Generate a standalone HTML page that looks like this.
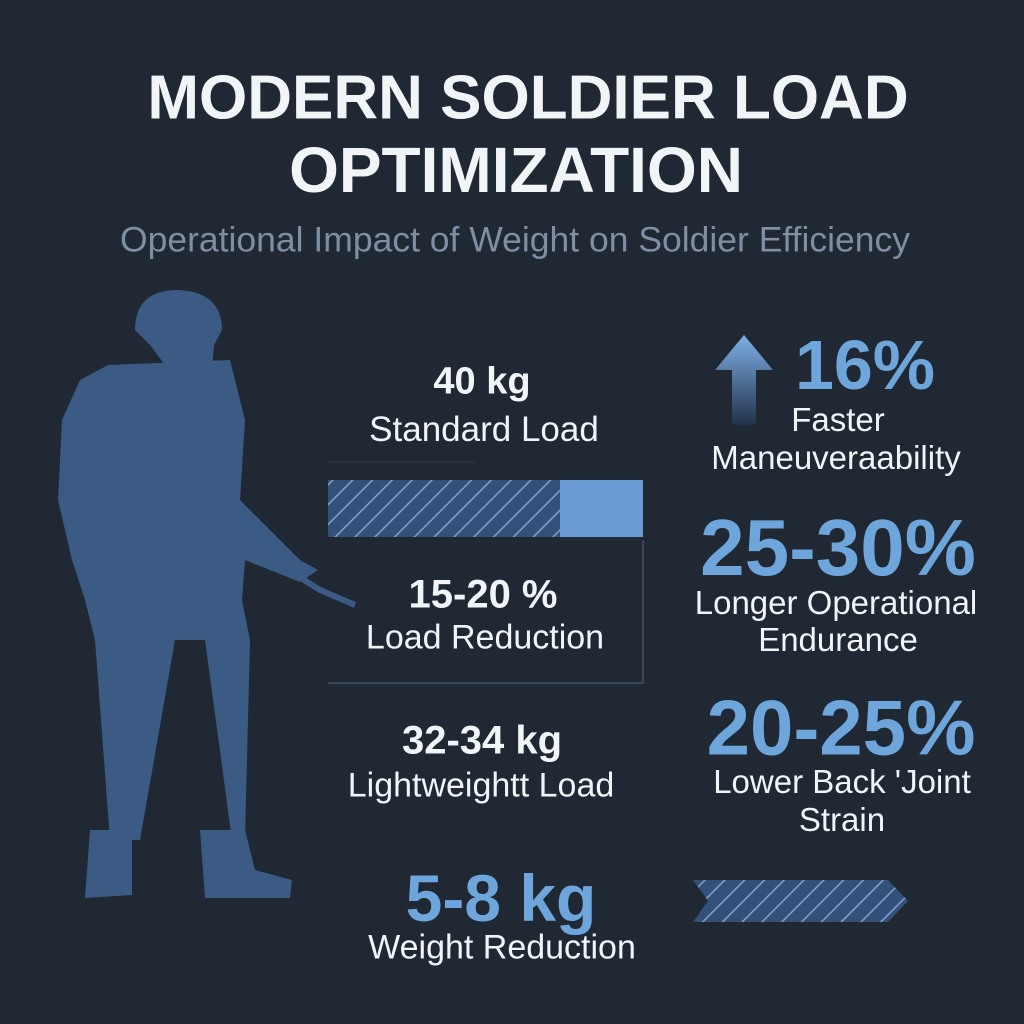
<!DOCTYPE html>
<html><head><meta charset="utf-8"><style>
html,body{margin:0;padding:0}
body{width:1024px;height:1024px;background:#1f2833;position:relative;overflow:hidden;font-family:"Liberation Sans","DejaVu Sans",sans-serif;color:#f2f5f8}
.t{position:absolute;white-space:nowrap;text-align:center;transform:translate(-50%,-50%)}
.b{font-weight:bold}
.blue{color:#6ea6dc}
</style></head><body>
<svg width="1024" height="1024" style="position:absolute;left:0;top:0">
<defs>
<pattern id="h" width="14" height="14" patternUnits="userSpaceOnUse" patternTransform="rotate(45)">
<rect width="14" height="14" fill="#33507a"/><rect x="0" y="0" width="1.6" height="14" fill="#7e9cc4"/>
</pattern>
</defs>
<g fill="#3b5a84">
<path d="M135 330 Q135 290 178 290 Q222 292 222 330 L214 345 L212 372 L195 380 L170 372 L150 345 Z"/>
<path d="M108 365 L230 360 L245 420 L240 500 L300 560 L318 570 L300 582 L245 560 L242 600 L250 640 L245 840 L232 840 L205 640 L175 640 L140 840 L110 840 L95 640 L85 600 L72 560 L58 500 L62 420 L80 380 Z"/>
<path d="M90 830 L132 830 L132 895 L85 898 Z"/>
<path d="M200 830 L245 830 L255 870 L292 880 L290 898 L205 898 Z"/>
</g>
<path d="M240 540 L320 590 L355 605" stroke="#3b5a84" stroke-width="6" fill="none"/>
<line x1="328" y1="462" x2="475" y2="462" stroke="#2a3440" stroke-width="2"/>
<rect x="328" y="480" width="232" height="57" fill="url(#h)"/>
<rect x="560" y="480" width="83" height="57" fill="#6a9bd4"/>
<line x1="643" y1="540" x2="643" y2="684" stroke="#3a4655" stroke-width="2"/>
<line x1="328" y1="683" x2="643" y2="683" stroke="#3a4655" stroke-width="2"/>
<defs><linearGradient id="ag" x1="0" y1="0" x2="0" y2="1"><stop offset="0" stop-color="#7eb0e6"/><stop offset="1" stop-color="#22324a"/></linearGradient></defs>
<path d="M744 335 L773 370 L756 370 L756 425 L732 425 L732 370 L715 370 Z" fill="url(#ag)"/>
<path d="M693 880 L888 880 L908 901 L888 922 L693 922 L708 901 Z" fill="url(#h)"/>
</svg>
<div class="t b" style="left:528px;top:98px;font-size:62px">MODERN SOLDIER LOAD</div>
<div class="t b" style="left:516px;top:170px;font-size:64px">OPTIMIZATION</div>
<div class="t" style="left:515px;top:240px;font-size:35.5px;color:#7f8ea3">Operational Impact of Weight on Soldier Efficiency</div>
<div class="t b" style="left:482px;top:382px;font-size:38px">40 kg</div>
<div class="t" style="left:484px;top:430px;font-size:35px">Standard Load</div>
<div class="t b" style="left:483px;top:595px;font-size:40px">15-20 %</div>
<div class="t" style="left:485px;top:638px;font-size:34px">Load Reduction</div>
<div class="t b" style="left:482px;top:741px;font-size:40px">32-34 kg</div>
<div class="t" style="left:481px;top:786px;font-size:34px">Lightweightt Load</div>
<div class="t b blue" style="left:501px;top:898px;font-size:66px">5-8 kg</div>
<div class="t" style="left:502px;top:948px;font-size:34px">Weight Reduction</div>
<div class="t b blue" style="left:865px;top:365px;font-size:70px">16%</div>
<div class="t" style="left:838px;top:420px;font-size:33px">Faster</div>
<div class="t" style="left:836px;top:458px;font-size:33px">Maneuveraability</div>
<div class="t b blue" style="left:838px;top:548px;font-size:80px">25-30%</div>
<div class="t" style="left:836px;top:603px;font-size:33px">Longer Operational</div>
<div class="t" style="left:838px;top:640px;font-size:33px">Endurance</div>
<div class="t b blue" style="left:841px;top:728px;font-size:78px">20-25%</div>
<div class="t" style="left:842px;top:782px;font-size:33px">Lower Back 'Joint</div>
<div class="t" style="left:842px;top:820px;font-size:33px">Strain</div>
</body></html>
